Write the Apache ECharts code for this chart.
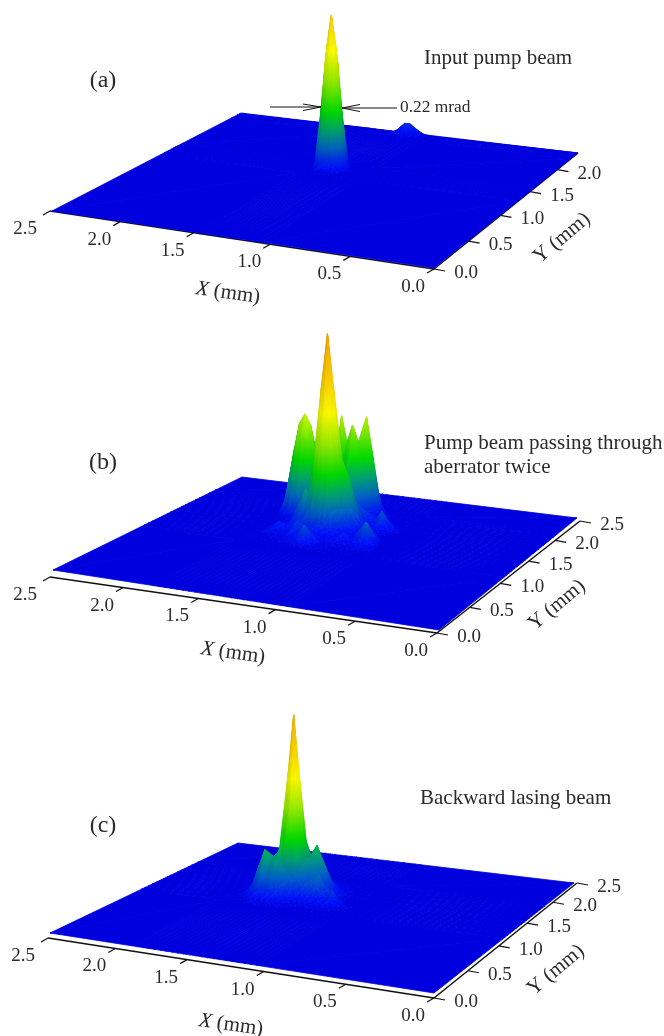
<!DOCTYPE html>
<html><head><meta charset="utf-8">
<style>html,body{margin:0;padding:0;background:#fff}#c{width:664px;height:1036px}</style>
<script src="https://cdn.jsdelivr.net/npm/echarts@6/dist/echarts.min.js"></script>
</head><body><div id="c"></div>
<script>
// ---- tick labels ----
const xTicks = [0, 0.5, 1, 1.5, 2, 2.5];
const yTicksA = [0, 0.5, 1, 1.5, 2];
const yTicksBC = [0, 0.5, 1, 1.5, 2, 2.5];

// ---- surface heights (0-100), rows go from far Y to near Y ----
const aXs = [1.11,1.17,1.21,1.24,1.27,1.30,1.33,1.36,1.39,1.42,1.45];
const aYs = [2.34,2.26,1.57,1.54,1.51,1.48,1.45,1.42,1.39,1.36,1.33];
const aZ = [
[3,6,6,4,2,1,0,0,0,0,0],
[0,0,0,0,0,0,0,0,0,0,0],
[0,0,0,0,0,.3,.5,.3,0,0,0],
[0,0,0,.3,2,4.5,6,4.5,2,.3,0],
[0,0,0,2,9,29,35,29,9,2,0],
[0,0,.3,4.5,29,54,63,54,29,4.5,.3],
[0,0,.5,6,35,63,78,63,35,6,.5],
[0,0,.3,4.5,29,54,63,54,29,4.5,.3],
[0,0,0,2,9,29,35,29,9,2,0],
[0,0,0,.3,2,4.5,6,4.5,2,.3,0],
[0,0,0,0,0,.3,.5,.3,0,0,0]];

const bXs = [.96,1,1.04,1.08,1.12,1.16,1.2,1.24,1.28,1.32,1.36,1.4,1.44,1.48,1.52,1.56,1.6,1.64,1.68,1.72,1.76];
const bYs = [2.05,2,1.95,1.9,1.85,1.8,1.75,1.7,1.65,1.6,1.55,1.5,1.45,1.4,1.35,1.3,1.25,1.2,1.15,1.1];
const bZ = [
[0,0,0,0,0,0,1,2,3,2,2,1,1,0,0,0,0,0,0,0,0],
[0,0,0,0,0,1,5,18,28,18,12,9,5,3,1,0,0,0,0,0,0],
[0,0,0,0,0,1,9,33,50,33,32,26,22,16,6,2,1,0,0,0,0],
[0,0,0,0,0,1,5,18,28,37,46,37,50,28,10,3,2,3,2,1,0],
[0,0,0,0,1,2,4,8,15,26,32,26,22,16,7,8,16,20,16,7,2],
[0,0,1,1,2,3,5,7,9,13,17,18,16,12,11,24,38,43,38,24,10],
[0,1,2,3,4,5,7,9,12,16,20,22,20,15,14,33,47,52,47,33,12],
[1,3,6,4,4,5,6,8,10,12,13,14,12,11,10,24,38,43,38,24,9],
[2,6,10,6,3,4,6,10,11,10,8,9,9,8,7,8,16,20,16,7,2],
[1,3,6,3,2,6,13,22,26,22,28,24,13,8,5,4,4,4,2,1,0],
[0,1,2,1,3,7,16,29,36,53,67,53,32,13,11,7,3,2,1,0,0],
[0,0,1,1,2,6,13,22,38,75,100,75,42,16,20,13,4,2,1,0,0],
[0,0,1,1,1,3,6,13,32,53,67,53,32,13,11,7,3,2,1,0,0],
[0,1,2,1,1,2,3,6,13,24,28,24,13,6,4,3,3,3,2,1,0],
[5,8,5,2,2,3,3,4,5,6,6,5,4,6,4,3,3,5,3,1,0],
[8,12,8,3,3,5,3,2,2,2,3,3,5,8,5,2,2,3,2,1,0],
[4,7,4,2,2,3,2,2,2,3,3,3,3,5,3,1,1,1,0,0,0],
[1,2,1,1,1,1,1,1,2,4,7,4,2,2,1,1,0,0,0,0,0],
[0,0,0,0,0,0,1,1,3,6,10,6,3,1,1,0,0,0,0,0,0],
[0,0,0,0,0,0,0,1,1,3,5,3,1,0,0,0,0,0,0,0,0]];

const cXs = [1.12,1.16,1.2,1.24,1.28,1.32,1.36,1.4,1.44,1.48,1.52,1.56,1.6,1.64,1.68,1.72,1.76,1.8,1.84,1.88];
const cYs = [1.85,1.8,1.75,1.7,1.65,1.6,1.55,1.5,1.45,1.4,1.35,1.3,1.25,1.2,1.15];
const cZ = [
[0,0,0,0,0,0,0,0,0,0,0,0,0,0,1,1,1,0,0,0],
[0,0,0,0,0,0,0,1,1,1,1,1,1,2,4,7,4,1,0,0],
[0,0,0,0,0,1,1,2,2,2,2,2,2,3,8,12,8,3,0,0],
[0,0,0,0,1,1,2,3,4,4,3,3,3,3,4,7,4,1,0,0],
[0,0,0,1,1,2,3,5,6,6,5,4,4,3,2,2,1,0,0,0],
[0,0,0,1,2,3,6,11,12,10,7,6,5,4,3,2,1,0,0,0],
[0,0,1,2,3,7,13,18,19,15,11,9,7,5,3,2,1,0,0,0],
[0,0,1,2,4,10,18,25,19,13,12,10,8,7,5,3,1,0,0,0],
[0,0,1,2,4,8,14,19,18,33,50,33,13,8,6,3,1,0,0,0],
[0,0,1,3,6,9,12,14,20,62,92,62,24,18,14,8,3,1,0,0],
[0,1,3,7,9,14,12,10,16,33,50,33,22,20,20,14,7,3,1,0],
[1,4,8,4,6,9,8,8,9,11,14,18,20,18,24,16,7,2,1,0],
[1,2,4,2,2,3,3,3,3,5,10,12,13,12,14,9,3,1,0,0],
[0,1,1,1,1,1,1,1,1,2,3,5,5,5,5,3,1,0,0,0],
[0,0,0,0,0,0,0,0,1,1,1,1,1,1,1,1,0,0,0,0]];

// ---- height colour ramp ----
const rampZ = [0,3,12,20,30,45,60,80,100];
const rampRGB = [[0,0,222],[0,15,250],[0,100,195],[0,160,120],[0,222,0],[150,240,0],[255,255,0],[255,205,0],[255,165,0]];

// ---- layout (corner order: front, X-end, Y-end, far) ----
const zScale = 1.97;
const panels = [
 {xMax:2.5,yMax:2.4,surf:[[434,268],[52,211],[578,153],[241,113]],axis:[[434,269],[50,211],[578,153],[240,114]],xs:aXs,ys:aYs,z:aZ,yTicks:yTicksA,
  tag:['(a)',90,81],xName:[228,293],yName:[562,238],notes:[['Input pump beam',424,58,21]]},
 {xMax:2.5,yMax:2.5,surf:[[439,630],[53,570],[577,518],[242,477]],axis:[[437,633],[50,577],[580,521],[243,480]],xs:bXs,ys:bYs,z:bZ,yTicks:yTicksBC,
  tag:['(b)',90,463],xName:[233,653],yName:[557,605],notes:[['Pump beam passing through',424,443,21],['aberrator twice',424,467,21]]},
 {xMax:2.5,yMax:2.5,surf:[[434,993],[50,933],[574,883],[238,843]],axis:[[434,998],[48,938],[577,883],[238,848]],xs:cXs,ys:cYs,z:cZ,yTicks:yTicksBC,
  tag:['(c)',90,826],xName:[231,1025],yName:[556,970],notes:[['Backward lasing beam',420,798,21]]}
];
const FONT = '"Liberation Serif","Times New Roman",serif';
const INK = '#2b2b2b';

function homography(q){
  const [p00,p10,p01,p11]=q;
  const dx1=p10[0]-p11[0],dx2=p01[0]-p11[0],sx=p00[0]-p10[0]+p11[0]-p01[0];
  const dy1=p10[1]-p11[1],dy2=p01[1]-p11[1],sy=p00[1]-p10[1]+p11[1]-p01[1];
  const det=dx1*dy2-dx2*dy1;
  const g=(sx*dy2-dx2*sy)/det,h=(dx1*sy-sx*dy1)/det;
  const a=p10[0]-p00[0]+g*p10[0],b=p01[0]-p00[0]+h*p01[0],c=p00[0];
  const d=p10[1]-p00[1]+g*p10[1],e=p01[1]-p00[1]+h*p01[1],f=p00[1];
  return (u,v)=>{const w=g*u+h*v+1;return [(a*u+b*v+c)/w,(d*u+e*v+f)/w];};
}
panels.forEach(p=>{
  const hs=homography(p.surf),ha=homography(p.axis);
  p.project=(X,Y,Z)=>{const q=hs(X/p.xMax,Y/p.yMax);return [q[0],q[1]-Z*zScale];};
  p.axisAt=(X,Y)=>ha(X/p.xMax,Y/p.yMax);
  // flat ground beyond the read-off region
  const gx=[0,p.xs[0]-.04,...p.xs,p.xs[p.xs.length-1]+.04,p.xMax];
  const gy=[p.yMax,p.ys[0]+.04,...p.ys,p.ys[p.ys.length-1]-.04,0];
  const blank=()=>gx.map(()=>0);
  const gz=[blank(),blank(),...p.z.map(r=>[0,0,...r,0,0]),blank(),blank()];
  p.gx=gx;p.gy=gy;p.gz=gz;
});

function colorAt(z,s){
  let i=0;while(i<rampZ.length-2&&z>rampZ[i+1])i++;
  const t=Math.max(0,Math.min(1,(z-rampZ[i])/(rampZ[i+1]-rampZ[i])));
  const c=rampRGB[i].map((v,k)=>Math.min(255,Math.round((v+(rampRGB[i+1][k]-v)*t)*s)));
  return 'rgb('+c.join(',')+')';
}
function shadeOf(A,B,C){
  const w=v=>[v[0]*150,v[1]*150,v[2]*zScale];
  const a=w(A),b=w(B),c=w(C);
  const u=[b[0]-a[0],b[1]-a[1],b[2]-a[2]],t=[c[0]-a[0],c[1]-a[1],c[2]-a[2]];
  let n=[u[1]*t[2]-u[2]*t[1],u[2]*t[0]-u[0]*t[2],u[0]*t[1]-u[1]*t[0]];
  if(n[2]<0)n=n.map(v=>-v);
  const L=Math.hypot(...n)||1;
  const nl=(-.4*n[0]-.4*n[1]+.82*n[2])/L;
  return Math.min(1,.86+.17*nl);
}
function triFill(P,Z,s){
  const zmin=Math.min(...Z),zmax=Math.max(...Z);
  const flat=colorAt((Z[0]+Z[1]+Z[2])/3,s);
  if(zmax-zmin<1e-6)return flat;
  const dx1=P[1][0]-P[0][0],dy1=P[1][1]-P[0][1],dx2=P[2][0]-P[0][0],dy2=P[2][1]-P[0][1];
  const det=dx1*dy2-dx2*dy1;
  if(Math.abs(det)<1e-3)return flat;
  const dz1=Z[1]-Z[0],dz2=Z[2]-Z[0];
  const gx=(dz1*dy2-dz2*dy1)/det,gy=(dx1*dz2-dx2*dz1)/det;
  const g2=gx*gx+gy*gy;
  const S=P[Z.indexOf(zmin)],k=(zmax-zmin)/g2;
  const stops=[{offset:0,color:colorAt(zmin,s)}];
  rampZ.forEach(r=>{if(r>zmin&&r<zmax)stops.push({offset:(r-zmin)/(zmax-zmin),color:colorAt(r,s)});});
  stops.push({offset:1,color:colorAt(zmax,s)});
  return new echarts.graphic.LinearGradient(S[0],S[1],S[0]+gx*k,S[1]+gy*k,stops,true);
}

// triangles, far to near
function surfaceData(pi){
  const p=panels[pi],out=[];
  for(let j=0;j<p.gy.length-1;j++)for(let i=p.gx.length-2;i>=0;i--){
    out.push([i,j,0]);out.push([i,j,1]);
  }
  return out;
}
function surfaceSeries(pi){
  const p=panels[pi];
  return {type:'custom',coordinateSystem:'cartesian2d',silent:true,clip:false,progressive:0,animation:false,z:3,
    encode:{x:0,y:1},data:surfaceData(pi),
    renderItem:(params,api)=>{
      const i=api.value(0),j=api.value(1),k=api.value(2);
      const v=(a,b)=>[p.gx[a],p.gy[b],p.gz[b][a]];
      const A=v(i+1,j),B=v(i,j),C=v(i+1,j+1),D=v(i,j+1);
      const T=k===0?[A,B,C]:[B,C,D];
      const P=T.map(t=>{const q=p.project(t[0],t[1],t[2]);return api.coord(q);});
      const Z=T.map(t=>t[2]);
      const s=Math.max(...Z)>0?shadeOf(T[0],T[1],T[2]):1;
      const fill=triFill(P,Z,s);
      return {type:'polygon',shape:{points:P},style:{fill:fill,stroke:fill,lineWidth:.8}};
    }};
}
function line(api,a,b,w){
  const A=api.coord(a),B=api.coord(b);
  return {type:'line',shape:{x1:A[0],y1:A[1],x2:B[0],y2:B[1]},style:{stroke:'#111',lineWidth:w,fill:null}};
}
function label(api,txt,pos,size,opt){
  const q=api.coord(pos);
  return Object.assign({type:'text',x:q[0],y:q[1],rotation:(opt&&opt.rot)||0,
    style:Object.assign({text:txt,fontFamily:FONT,fontSize:size,fill:INK,
      align:(opt&&opt.align)||'center',verticalAlign:'middle'},(opt&&opt.style)||{})});
}
function axesSeries(){
  return {type:'custom',coordinateSystem:'cartesian2d',silent:true,clip:false,animation:false,z:2,
    encode:{x:0,y:1},data:panels.map((p,i)=>[i,i]),
    renderItem:(params,api)=>{
      const p=panels[api.value(0)],ch=[];
      const o=p.axisAt(0,0),xe=p.axisAt(p.xMax,0),ye=p.axisAt(0,p.yMax);
      ch.push(line(api,o,xe,1.5),line(api,o,ye,1.5));
      xTicks.forEach(t=>{const q=p.axisAt(t,0);ch.push(line(api,q,[q[0]-7,q[1]+4],1.2));});
      p.yTicks.forEach(t=>{const q=p.axisAt(0,t);ch.push(line(api,q,[q[0]+11,q[1]+2],1.2));});
      return {type:'group',children:ch};
    }};
}
function textSeries(){
  return {type:'custom',coordinateSystem:'cartesian2d',silent:true,clip:false,animation:false,z:5,
    encode:{x:0,y:1},data:panels.map((p,i)=>[i,i]),
    renderItem:(params,api)=>{
      const idx=api.value(0),p=panels[idx],ch=[];
      xTicks.forEach(t=>{const q=p.axisAt(t,0);ch.push(label(api,t.toFixed(1),[q[0]-(t===2.5?25:21),q[1]+18],19));});
      p.yTicks.forEach(t=>{const q=p.axisAt(0,t);ch.push(label(api,t.toFixed(1),[q[0]+32,q[1]+4],19));});
      const rich={i:{fontFamily:FONT,fontSize:21,fontStyle:'italic',fill:INK}};
      const plain={r:{fontFamily:FONT,fontSize:21,fill:INK}};
      ch.push(label(api,'{i|X}{r| (mm)}',p.xName,21,{rot:-8*Math.PI/180,style:{rich:Object.assign({},rich,plain)}}));
      ch.push(label(api,'Y (mm)',p.yName,21,{rot:40*Math.PI/180}));
      ch.push(label(api,p.tag[0],[p.tag[1]+13,p.tag[2]],24));
      p.notes.forEach(n=>ch.push(label(api,n[0],[n[1],n[2]],n[3],{align:'left'})));
      if(idx===0){
        ch.push(label(api,'0.22 mrad',[400,107],17.4,{align:'left'}));
        ch.push(line(api,[270,107],[321,107],1),line(api,[303,104],[321,107],1),line(api,[303,110.5],[321,107],1));
        ch.push(line(api,[397,108],[342,108],1),line(api,[360,104.5],[342,108],1),line(api,[360,111.5],[342,108],1));
      }
      return {type:'group',children:ch};
    }};
}
const chart=echarts.init(document.getElementById('c'),null,{renderer:'canvas'});
chart.setOption({
  animation:false,backgroundColor:'#fff',
  grid:{left:0,right:0,top:0,bottom:0},
  xAxis:{type:'value',min:0,max:664,show:false},
  yAxis:{type:'value',min:0,max:1036,inverse:true,show:false},
  series:[axesSeries(),surfaceSeries(0),surfaceSeries(1),surfaceSeries(2),textSeries()]
});
</script></body></html>
